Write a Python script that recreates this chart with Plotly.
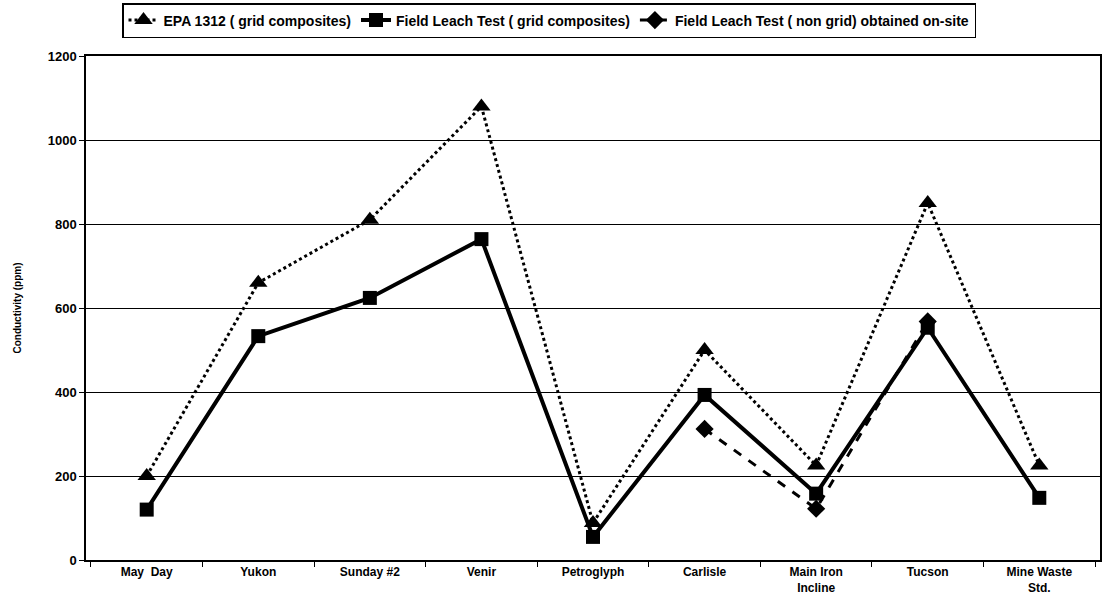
import plotly.graph_objects as go

categories = ["May  Day", "Yukon", "Sunday #2", "Venir", "Petroglyph", "Carlisle",
              "Main Iron<br>Incline", "Tucson", "Mine Waste<br>Std."]
epa_1312 = [200, 660, 810, 1080, 88, 500, 225, 850, 225]
field_grid = [120, 533, 624, 764, 55, 393, 158, 553, 148]
field_nongrid = [None, None, None, None, None, 312, 122, 568, None]
y_ticks = [0, 200, 400, 600, 800, 1000, 1200]

FONT = "Arial, Liberation Sans, sans-serif"

fig = go.Figure()
fig.add_trace(go.Scatter(
    x=categories, y=epa_1312, mode="lines+markers",
    name="EPA 1312 ( grid composites)",
    line=dict(color="black", width=3, dash="dot"),
    marker=dict(symbol="triangle-up", size=16, color="black"),
))
fig.add_trace(go.Scatter(
    x=categories, y=field_grid, mode="lines+markers",
    name="Field Leach Test ( grid composites)",
    line=dict(color="black", width=4),
    marker=dict(symbol="square", size=14, color="black"),
))
fig.add_trace(go.Scatter(
    x=categories, y=field_nongrid, mode="lines+markers",
    name="Field Leach Test ( non grid) obtained on-site",
    line=dict(color="black", width=3, dash="dash"),
    marker=dict(symbol="diamond", size=14, color="black"),
    connectgaps=False,
))

fig.update_layout(
    width=1107, height=599,
    margin=dict(l=86, r=7, t=56, b=39, autoexpand=False),
    paper_bgcolor="white", plot_bgcolor="white",
    font=dict(family=FONT, size=11, color="black", weight="bold"),
    showlegend=True,
    legend=dict(
        orientation="h", x=(122 - 86) / 1014, xanchor="left", y=1 + 53 / 504, yanchor="top",
        bordercolor="black", borderwidth=1.5, bgcolor="white",
        font=dict(family=FONT, size=14, color="black", weight="bold"),
        itemwidth=30, tracegroupgap=0,
    ),
)
fig.update_xaxes(
    type="category", categoryorder="array", categoryarray=categories,
    showline=True, linecolor="black", linewidth=1.5, mirror=True,
    showgrid=False, ticks="outside", tickson="boundaries", ticklen=5,
    tickcolor="black", tickfont=dict(family=FONT, size=12, weight="bold"),
    automargin=False,
)
fig.update_yaxes(
    range=[0, 1200], tickvals=y_ticks, ticktext=[str(v) for v in y_ticks],
    showline=True, linecolor="black", linewidth=1.5, mirror=True,
    showgrid=True, gridcolor="black", gridwidth=1,
    ticks="outside", ticklen=5, tickcolor="black",
    tickfont=dict(family=FONT, size=13, weight="bold"),
    title=dict(text="Conductivity (ppm)", font=dict(family=FONT, size=10, weight="bold"), standoff=24),
    zeroline=False, automargin=False,
)

fig.write_html("out.html", config={"displayModeBar": False},
               post_script="document.body.style.margin='0';")
